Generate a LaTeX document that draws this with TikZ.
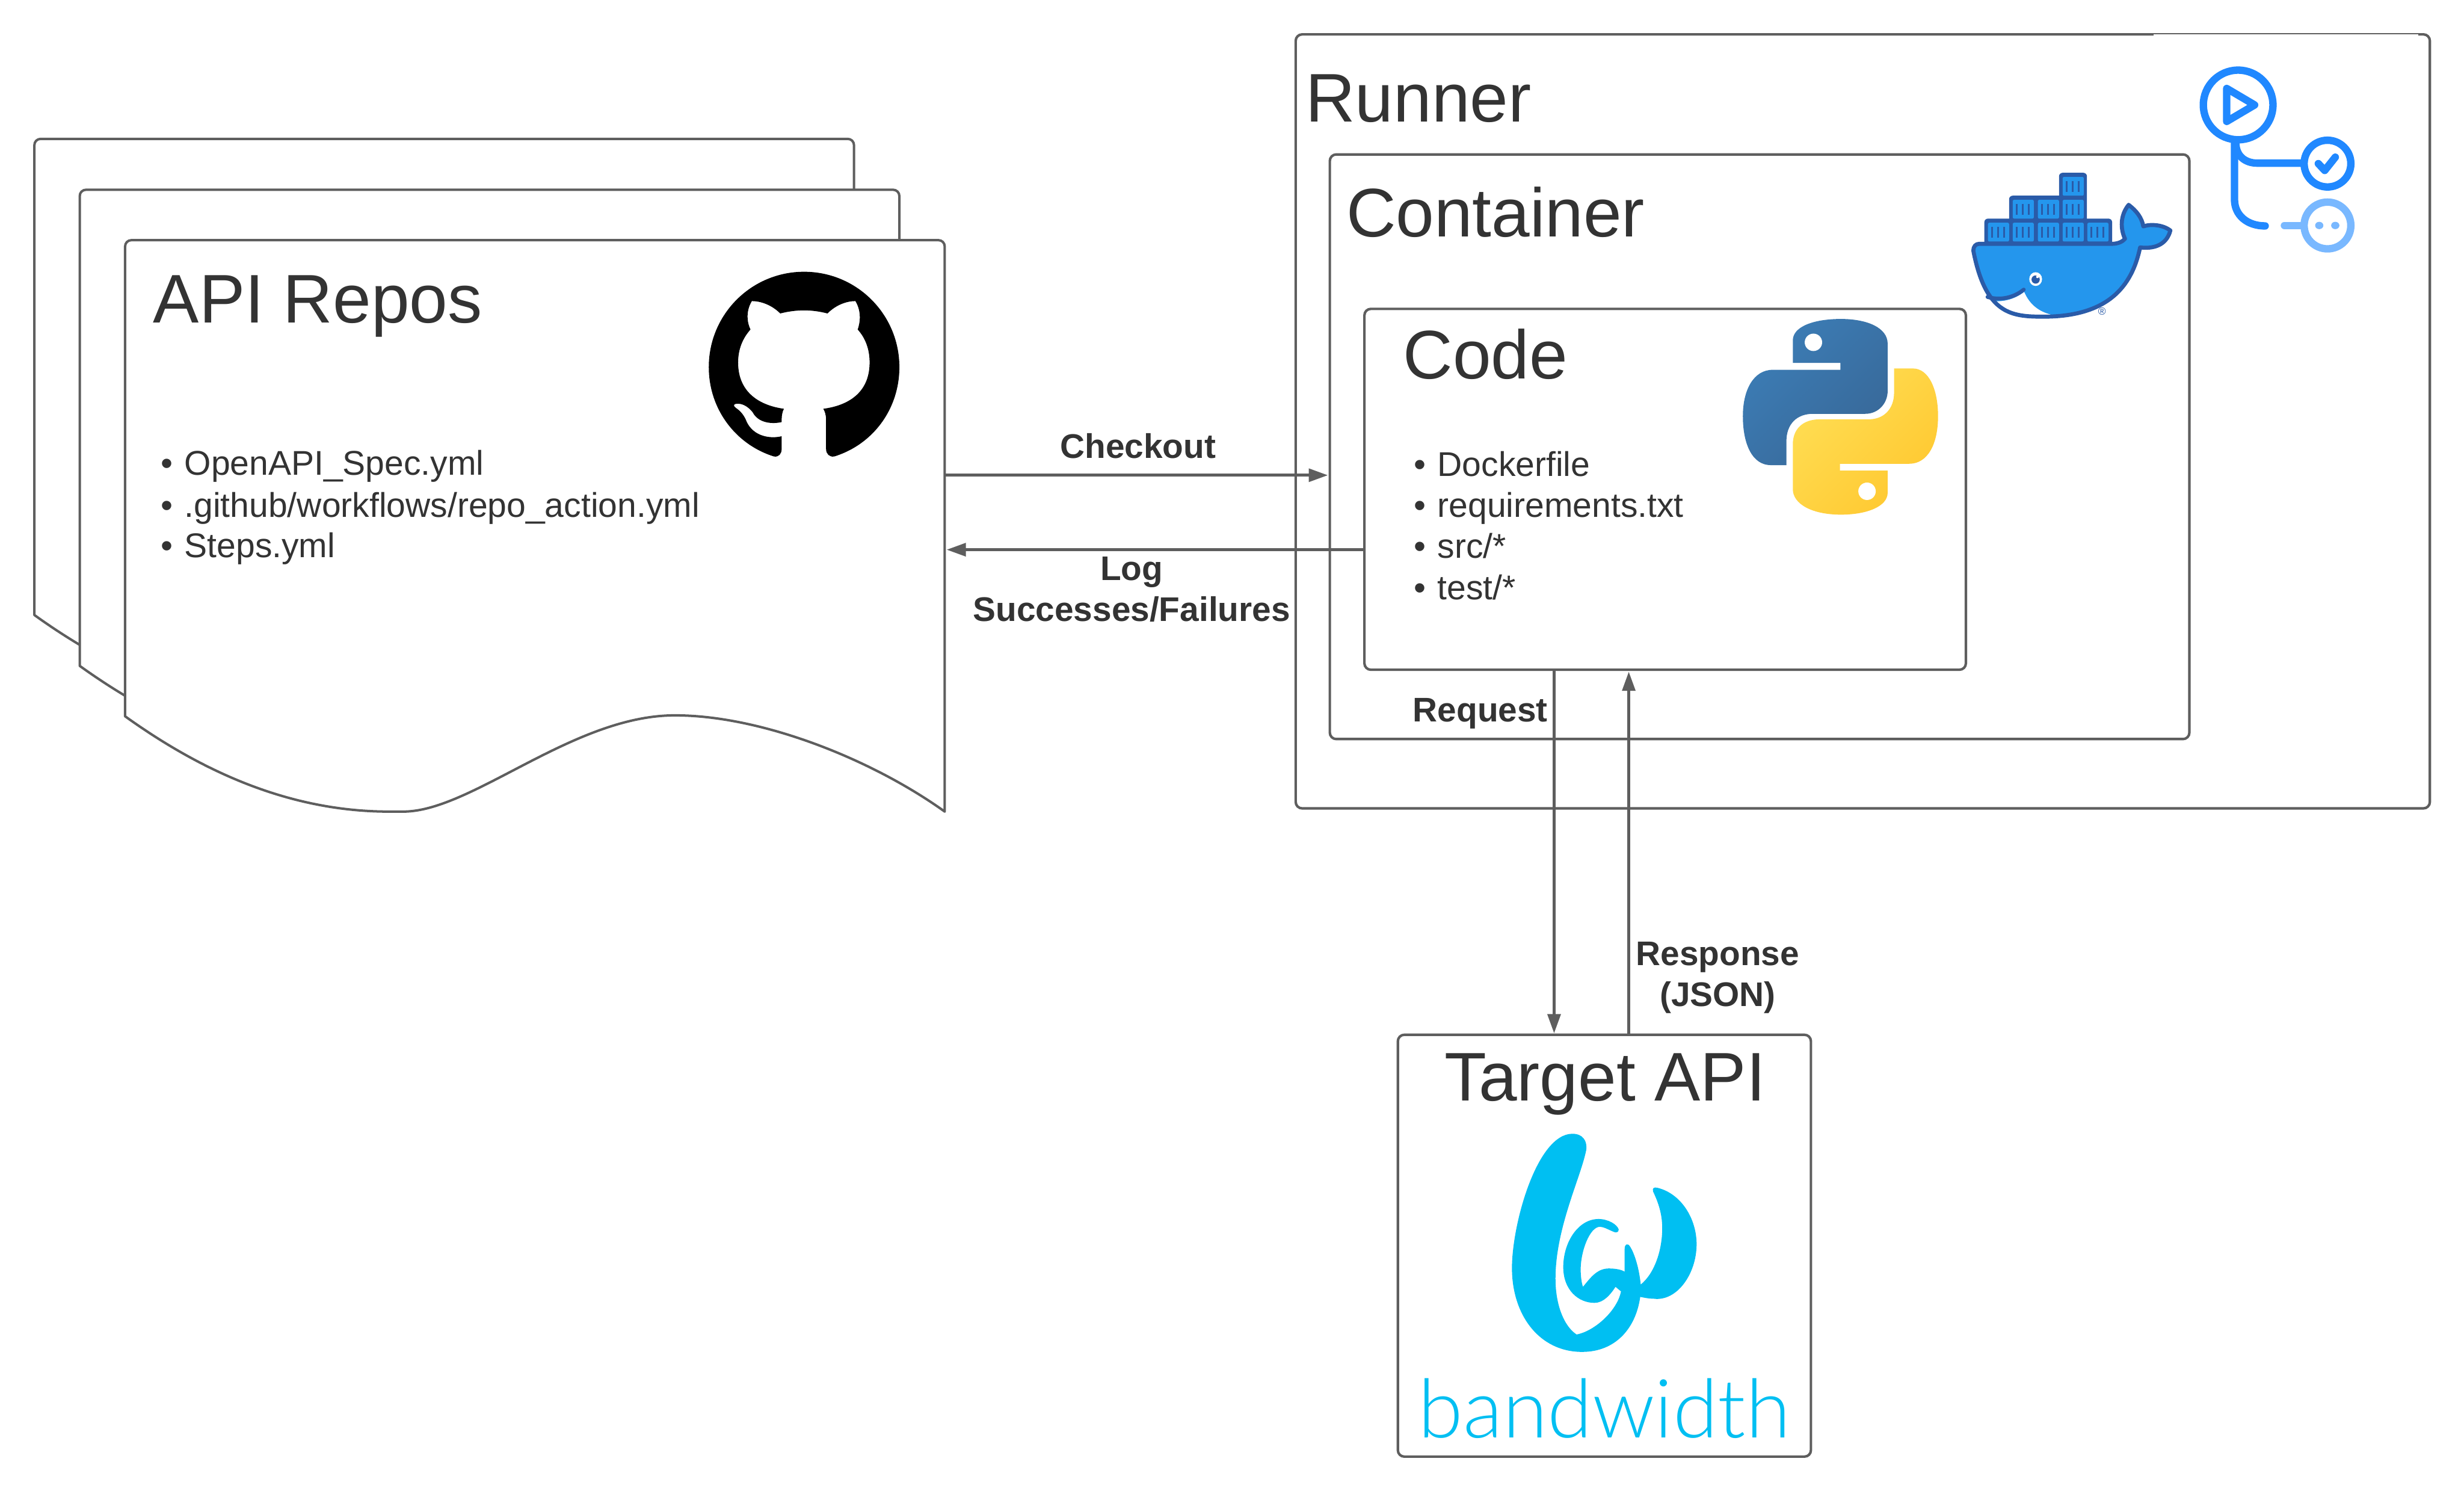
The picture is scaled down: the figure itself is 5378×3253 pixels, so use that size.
\documentclass[tikz,border=0pt]{standalone}
\usepackage{fontspec}
\setmainfont{Liberation Sans}
\newfontfamily\bwfont{Lato Light}
\usetikzlibrary{arrows.meta}
\definecolor{linec}{HTML}{5E5E5E}
\definecolor{textc}{HTML}{333333}
\definecolor{dockd}{HTML}{2A5BA8}
\definecolor{dockl}{HTML}{2496ED}
\definecolor{actc}{HTML}{2088FF}
\definecolor{actl}{HTML}{79B8FF}
\definecolor{bwc}{HTML}{00BFF2}
\newcommand\listline[4]{\node[listt] (#1) at (#2,#3) {\makebox[.52cm][l]{•}#4};}
\tikzset{
  box/.style={draw=linec,line width=1.56pt,fill=white,rounded corners=.14cm,inner sep=0pt,outer sep=0pt,anchor=north west},
  pagesheet/.style={draw=linec,line width=1.5pt,fill=white,line join=round},
  bigt/.style={text=textc,font=\fontsize{42.7pt}{48pt}\selectfont,inner sep=0pt,anchor=base west},
  listt/.style={text=textc,font=\fontsize{21.3pt}{25.6pt}\selectfont,inner sep=0pt,anchor=base west},
  lbl/.style={text=textc,font=\fontsize{21.2pt}{25.6pt}\selectfont\bfseries,inner sep=0pt,anchor=base},
  conn/.style={draw=linec,line width=1.95pt,-{Triangle[width=.28cm,length=.42cm]}},
  actline/.style={draw=actc,line width=4.6pt,line cap=round,line join=round},
  actlite/.style={draw=actl,line width=4.6pt,line cap=round,line join=round},
  dockcell/.style={fill=dockl,rounded corners=.03cm},
  dockstripe/.style={fill=dockd}
}
\begin{document}
\begin{tikzpicture}[x=0.01cm,y=-0.01cm]
\useasboundingbox (0,0) rectangle (5378,3253);
\fill[white] (0,0) rectangle (5378,3253);
% stacked document pages
\foreach \dx/\dy in {-198/-221,-99/-110,0/0}{
  \draw[pagesheet,shift={(\dx,\dy)}] (273,1563) -- (273,538) .. controls (273,530) and (279,524) .. (287,524)
    -- (2048,524) .. controls (2056,524) and (2062,530) .. (2062,538) -- (2062,1771)
    .. controls (1900,1655) and (1660,1561) .. (1473,1561)
    .. controls (1250,1561) and (1030,1771) .. (880,1771) -- (850,1771)
    .. controls (640,1771) and (450,1690) .. (273,1563) -- cycle;
}
\node[anchor=north west,inner sep=0pt,outer sep=0pt,minimum width=17.89cm,minimum height=12.51cm] (front) at (273,524) {};
% runner, container, code, target
\node[box,minimum width=24.74cm,minimum height=16.88cm] (runner) at (2828,75) {};
\fill[white] (4701,75) rectangle (5278,80);
\node[box,minimum width=18.75cm,minimum height=12.75cm] (container) at (2902.5,337) {};
\node[box,minimum width=13.12cm,minimum height=7.87cm] (code) at (2978,674) {};
\node[box,minimum width=9.01cm,minimum height=9.20cm] (target) at (3051,2258) {};
% titles
\node[bigt] (apititle) at (334,704) {API Repos};
\node[bigt] (runnertitle) at (2849,266) {Runner};
\node[bigt] (containertitle) at (2938,516) {Container};
\node[bigt] (codetitle) at (3062,826) {Code};
\node[bigt,anchor=base] (targettitle) at (3503,2402) {Target API};
% lists
\listline{la}{350}{1037}{OpenAPI\_Spec.yml}
\listline{lb}{350}{1128}{.github/workflows/repo\_action.yml}
\listline{lc}{350}{1217}{Steps.yml}
\listline{ca}{3085}{1039}{Dockerfile}
\listline{cb}{3085}{1129}{requirements.txt}
\listline{cc}{3085}{1218}{src/*}
\listline{cd}{3085}{1308}{test/*}
% connectors
\coordinate (chky) at (0,1037);
\coordinate (logy) at (0,1199.5);
\coordinate (reqx) at (3392,0);
\coordinate (resx) at (3555,0);
\draw[conn,shorten >=.04cm] (front.east |- chky) -- (container.west |- chky);
\draw[conn,shorten >=.03cm] (code.west |- logy) -- (front.east |- logy);
\draw[conn,shorten >=.03cm] (reqx |- code.south) -- (reqx |- target.north);
\draw[conn,shorten >=.04cm] (resx |- target.north) -- (resx |- code.south);
% connector labels
\node[lbl] (lcheckout) at (2484,1000) {Checkout};
\node[lbl] (llog) at (2470,1267) {Log};
\node[lbl] (lsuccess) at (2470,1356) {Successes/Failures};
\node[lbl] (lrequest) at (3231,1575) {Request};
\node[lbl] (lresponse) at (3749,2106) {Response};
\node[lbl] (ljson) at (3749,2196) {(JSON)};
% GitHub mark
\fill[black] (1755,593) .. controls (1640,593) and (1547,686) .. (1547,801) .. controls (1547,893) and (1606,970) .. (1689,996)
  .. controls (1700,998) and (1706,990) .. (1706,980) -- (1706,952) .. controls (1680,958) and (1645,952) .. (1630,921)
  .. controls (1624,905) and (1615,896) .. (1606,890) .. controls (1599,884) and (1601,881) .. (1611,881)
  .. controls (1625,881) and (1637,892) .. (1643,900) .. controls (1655,923) and (1685,926) .. (1706,921)
  .. controls (1706,908) and (1707,899) .. (1711,892) .. controls (1660,885) and (1611,858) .. (1611,791)
  .. controls (1611,762) and (1621,738) .. (1638,719) .. controls (1631,705) and (1627,680) .. (1641,657)
  .. controls (1660,657) and (1684,665) .. (1703,684) .. controls (1738,675) and (1772,675) .. (1806,684)
  .. controls (1825,665) and (1848,657) .. (1867,657) .. controls (1881,680) and (1877,705) .. (1872,719)
  .. controls (1889,738) and (1898,762) .. (1898,791) .. controls (1898,858) and (1850,885) .. (1797,892)
  .. controls (1800,897) and (1803,905) .. (1803,916) -- (1803,980) .. controls (1803,990) and (1810,998) .. (1821,996)
  .. controls (1905,970) and (1963,893) .. (1963,801) .. controls (1963,686) and (1870,593) .. (1755,593) -- cycle;
% Python logo
\path[shade,left color={rgb,255:red,60;green,125;blue,182},right color={rgb,255:red,56;green,104;blue,152},shading angle=45]
  (3913,743) .. controls (3913,712) and (3960,696) .. (4018,696) .. controls (4075,696) and (4120,715) .. (4120,750) -- (4120,853) .. controls (4120,880) and (4100,903) .. (4071,903) -- (3957,903) .. controls (3922,903) and (3899,925) .. (3899,963) -- (3899,1015) -- (3865,1015) .. controls (3825,1015) and (3804,970) .. (3804,908) .. controls (3804,850) and (3828,807) .. (3869,807) -- (4017,807) -- (4017,792) -- (3913,792) -- cycle;
\path[shade,left color={rgb,255:red,255;green,222;blue,84},right color={rgb,255:red,255;green,200;blue,48},shading angle=45]
  (4134,804) -- (4175,804) .. controls (4210,804) and (4230,850) .. (4230,908) .. controls (4230,970) and (4207,1012) .. (4167,1012) -- (4016,1012) -- (4016,1027) -- (4120,1027) -- (4120,1075) .. controls (4120,1105) and (4075,1123) .. (4018,1123) .. controls (3955,1123) and (3913,1100) .. (3913,1067) -- (3913,970) .. controls (3913,935) and (3936,915) .. (3972,915) -- (4079,915) .. controls (4112,915) and (4134,892) .. (4134,857) -- cycle;
\fill[white] (3958,747) circle[radius=19];
\fill[white] (4075,1072) circle[radius=19];
% Docker logo
\fill[dockd,rounded corners=.08cm] (4494,377) rectangle (4555,440);
\fill[dockd,rounded corners=.08cm] (4385,427) rectangle (4555,490);
\fill[dockd,rounded corners=.08cm] (4331,477) rectangle (4610,535);
\foreach \cx/\cy in {4502/386,4393/436,4448/436,4502/436,4339/486,4393/486,4448/486,4502/486,4556/486}{
  \fill[dockcell] (\cx,\cy) rectangle ++(46,41);
  \foreach \sx in {9,22,35}{
    \fill[dockstripe] (\cx+\sx-2,\cy+9) rectangle ++(3.5,24);
  }
}
\path[fill=dockl] (4307,547) .. controls (4307,538) and (4312,532) .. (4320,532) -- (4610,532) .. controls (4620,532) and (4631,529) .. (4638,521)
  .. controls (4628,500) and (4627,470) .. (4646,447) .. controls (4663,460) and (4675,475) .. (4678,494)
  .. controls (4695,488) and (4722,491) .. (4737,503) .. controls (4730,530) and (4708,544) .. (4671,540)
  .. controls (4653,626) and (4600,691) .. (4460,691) .. controls (4390,691) and (4334,686) .. (4307,547) -- cycle;
\fill[white] (4344,656) .. controls (4368,660) and (4395,655) .. (4418,637) .. controls (4430,665) and (4450,680) .. (4478,687) .. controls (4425,695) and (4365,690) .. (4344,656) -- cycle;
\draw[dockd,line width=2.4pt,line cap=round] (4338,648) .. controls (4365,656) and (4395,650) .. (4417,632);
\draw[dockd,line width=2.5pt,line join=round] (4307,547) .. controls (4307,538) and (4312,532) .. (4320,532) -- (4610,532) .. controls (4620,532) and (4631,529) .. (4638,521)
  .. controls (4628,500) and (4627,470) .. (4646,447) .. controls (4663,460) and (4675,475) .. (4678,494)
  .. controls (4695,488) and (4722,491) .. (4737,503) .. controls (4730,530) and (4708,544) .. (4671,540)
  .. controls (4653,626) and (4600,691) .. (4460,691) .. controls (4390,691) and (4334,686) .. (4307,547) -- cycle;
\fill[white] (4443,609) ellipse[x radius=14,y radius=15];
\fill[dockd] (4443,610) circle[radius=9];
\fill[white] (4447,604) circle[radius=3];
\node[text=dockd,inner sep=0pt,font=\fontsize{6.5pt}{7pt}\selectfont] (regmark) at (4588,680) {®};
% GitHub Actions icon
\draw[actline] (4885,229) circle[radius=76];
\draw[actline] (4860,193) -- (4860,265) -- (4921,229) -- cycle;
\draw[actline] (4877,312) -- (4877,435) .. controls (4877,470) and (4905,493) .. (4944,493);
\draw[actline] (4880,312) .. controls (4880,340) and (4900,356) .. (4927,356) -- (5022,356);
\draw[actline] (5080,357) circle[radius=51];
\draw[actline] (5060,357) -- (5074,372) -- (5097,343);
\draw[actlite] (4986,492) -- (5025,492);
\draw[actlite] (5080,492) circle[radius=51];
\fill[actl] (5062,492) ellipse[x radius=9,y radius=8];
\fill[actl] (5097,492) ellipse[x radius=9,y radius=8];
% Bandwidth logo
\fill[bwc] (3432,2474) .. controls (3455,2474) and (3465,2490) .. (3462,2510)
  .. controls (3450,2570) and (3395,2680) .. (3395,2790)
  .. controls (3395,2850) and (3415,2895) .. (3441,2912)
  .. controls (3480,2905) and (3530,2860) .. (3538,2818) -- (3526,2808)
  .. controls (3515,2825) and (3500,2843) .. (3480,2843)
  .. controls (3445,2843) and (3412,2815) .. (3412,2765)
  .. controls (3412,2710) and (3445,2660) .. (3489,2660)
  .. controls (3510,2660) and (3530,2672) .. (3533,2683)
  .. controls (3533,2690) and (3526,2690) .. (3522,2688)
  .. controls (3510,2683) and (3500,2677) .. (3492,2677)
  .. controls (3470,2677) and (3450,2730) .. (3450,2770)
  .. controls (3450,2785) and (3452,2800) .. (3455,2808)
  .. controls (3470,2790) and (3485,2768) .. (3511,2768)
  .. controls (3525,2768) and (3538,2770) .. (3546,2775) -- (3546,2725)
  .. controls (3546,2715) and (3552,2712) .. (3557,2719)
  .. controls (3568,2735) and (3578,2770) .. (3581,2803)
  .. controls (3610,2780) and (3628,2730) .. (3628,2680)
  .. controls (3628,2650) and (3620,2625) .. (3608,2600)
  .. controls (3606,2592) and (3610,2590) .. (3618,2592)
  .. controls (3670,2605) and (3703,2660) .. (3703,2715)
  .. controls (3703,2780) and (3660,2840) .. (3610,2834)
  .. controls (3600,2834) and (3590,2832) .. (3580,2830)
  .. controls (3570,2900) and (3525,2950) .. (3453,2950)
  .. controls (3360,2950) and (3300,2870) .. (3300,2767)
  .. controls (3300,2670) and (3355,2474) .. (3432,2474) -- cycle;
\node[text=bwc,inner sep=0pt,anchor=base,font=\bwfont\fontsize{50.6pt}{54pt}\selectfont] (bwtext) at (3502,3137) {bandwidth};
\end{tikzpicture}
\end{document}
